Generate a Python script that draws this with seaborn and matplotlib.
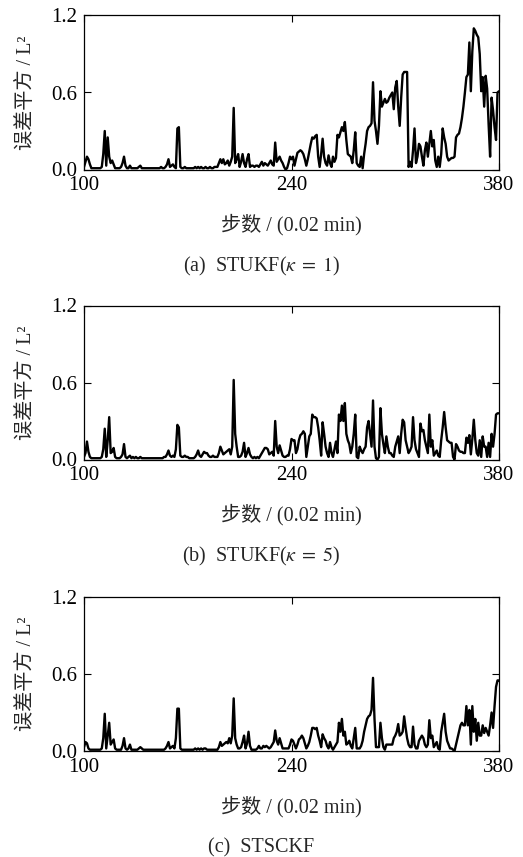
import numpy as np
import pandas as pd
import matplotlib
matplotlib.use("Agg")
import matplotlib.pyplot as plt
import seaborn as sns

# time steps (unit: 0.02 min)
steps = np.arange(100, 381)

# squared estimation error, STUKF with kappa = 1
err_stukf_k1 = [
    0.02, 0.06, 0.10, 0.08, 0.04, 0.01, 0.01, 0.01, 0.01, 0.01,
    0.01, 0.01, 0.02, 0.12, 0.30, 0.03, 0.25, 0.10, 0.05, 0.07,
    0.04, 0.01, 0.01, 0.01, 0.01, 0.02, 0.05, 0.10, 0.03, 0.01,
    0.01, 0.03, 0.01, 0.01, 0.01, 0.01, 0.01, 0.02, 0.03, 0.01,
    0.01, 0.01, 0.01, 0.01, 0.01, 0.01, 0.01, 0.01, 0.01, 0.01,
    0.01, 0.01, 0.02, 0.01, 0.01, 0.02, 0.04, 0.08, 0.02, 0.03,
    0.04, 0.02, 0.01, 0.32, 0.33, 0.02, 0.01, 0.01, 0.02, 0.01,
    0.01, 0.01, 0.01, 0.01, 0.01, 0.02, 0.01, 0.02, 0.01, 0.02,
    0.01, 0.01, 0.02, 0.01, 0.01, 0.02, 0.01, 0.01, 0.02, 0.02,
    0.02, 0.05, 0.08, 0.05, 0.08, 0.04, 0.05, 0.07, 0.03, 0.06,
    0.10, 0.48, 0.05, 0.08, 0.12, 0.02, 0.06, 0.12, 0.05, 0.02,
    0.08, 0.12, 0.02, 0.03, 0.03, 0.02, 0.03, 0.03, 0.02, 0.04,
    0.06, 0.03, 0.05, 0.04, 0.03, 0.05, 0.07, 0.04, 0.03, 0.21,
    0.06, 0.08, 0.10, 0.07, 0.05, 0.02, 0.00, 0.01, 0.05, 0.10,
    0.08, 0.10, 0.03, 0.08, 0.13, 0.14, 0.15, 0.14, 0.12, 0.08,
    0.03, 0.08, 0.14, 0.20, 0.25, 0.24, 0.26, 0.27, 0.10, 0.02,
    0.12, 0.24, 0.10, 0.05, 0.03, 0.11, 0.05, 0.02, 0.10, 0.06,
    0.09, 0.27, 0.25, 0.29, 0.33, 0.30, 0.37, 0.23, 0.12, 0.11,
    0.10, 0.05, 0.15, 0.29, 0.05, 0.03, 0.02, 0.10, 0.01, 0.12,
    0.20, 0.30, 0.33, 0.34, 0.36, 0.68, 0.38, 0.30, 0.20, 0.34,
    0.61, 0.49, 0.52, 0.55, 0.52, 0.53, 0.56, 0.58, 0.60, 0.47,
    0.64, 0.69, 0.49, 0.34, 0.56, 0.74, 0.76, 0.76, 0.76, 0.02,
    0.06, 0.02, 0.15, 0.32, 0.05, 0.10, 0.20, 0.18, 0.10, 0.03,
    0.15, 0.21, 0.10, 0.20, 0.30, 0.18, 0.23, 0.07, 0.02, 0.10,
    0.02, 0.12, 0.32, 0.25, 0.20, 0.10, 0.07, 0.08, 0.09, 0.09,
    0.10, 0.25, 0.27, 0.28, 0.33, 0.40, 0.49, 0.60, 0.72, 0.74,
    0.99, 0.61, 0.92, 1.10, 1.08, 1.05, 1.03, 0.90, 0.61, 0.72,
    0.49, 0.73, 0.63, 0.35, 0.10, 0.56, 0.46, 0.33, 0.23, 0.60,
    0.61,
]

# squared estimation error, STUKF with kappa = 5
err_stukf_k5 = [
    0.02, 0.05, 0.14, 0.06, 0.02, 0.01, 0.01, 0.01, 0.01, 0.01,
    0.01, 0.01, 0.02, 0.08, 0.24, 0.02, 0.15, 0.33, 0.05, 0.06,
    0.09, 0.02, 0.01, 0.01, 0.01, 0.02, 0.04, 0.12, 0.02, 0.01,
    0.02, 0.03, 0.01, 0.02, 0.01, 0.02, 0.01, 0.01, 0.02, 0.01,
    0.01, 0.01, 0.01, 0.01, 0.01, 0.01, 0.01, 0.01, 0.01, 0.01,
    0.01, 0.01, 0.01, 0.01, 0.02, 0.02, 0.04, 0.07, 0.03, 0.02,
    0.03, 0.02, 0.08, 0.27, 0.25, 0.03, 0.02, 0.02, 0.03, 0.02,
    0.02, 0.01, 0.01, 0.01, 0.01, 0.02, 0.04, 0.07, 0.03, 0.02,
    0.04, 0.06, 0.05, 0.05, 0.03, 0.02, 0.02, 0.03, 0.02, 0.02,
    0.02, 0.05, 0.10, 0.07, 0.04, 0.05, 0.06, 0.07, 0.08, 0.04,
    0.10, 0.62, 0.20, 0.10, 0.02, 0.02, 0.03, 0.06, 0.13, 0.02,
    0.05, 0.09, 0.04, 0.02, 0.01, 0.02, 0.01, 0.02, 0.01, 0.03,
    0.05, 0.07, 0.09, 0.09, 0.08, 0.04, 0.05, 0.06, 0.03, 0.30,
    0.10, 0.05, 0.11, 0.07, 0.03, 0.02, 0.02, 0.03, 0.03, 0.08,
    0.16, 0.15, 0.15, 0.05, 0.08, 0.15, 0.19, 0.20, 0.22, 0.20,
    0.02, 0.10, 0.18, 0.20, 0.35, 0.33, 0.33, 0.32, 0.25, 0.15,
    0.03, 0.29, 0.20, 0.10, 0.05, 0.02, 0.13, 0.05, 0.02, 0.08,
    0.14, 0.05, 0.35, 0.30, 0.42, 0.30, 0.44, 0.20, 0.15, 0.12,
    0.05, 0.10, 0.20, 0.35, 0.02, 0.01, 0.10, 0.07, 0.05, 0.08,
    0.10, 0.25, 0.30, 0.20, 0.10, 0.46, 0.10, 0.01, 0.00, 0.02,
    0.40, 0.20, 0.12, 0.05, 0.18, 0.10, 0.05, 0.05, 0.03, 0.02,
    0.10, 0.14, 0.18, 0.05, 0.20, 0.31, 0.29, 0.15, 0.10, 0.05,
    0.07, 0.10, 0.33, 0.15, 0.08, 0.05, 0.02, 0.28, 0.22, 0.23,
    0.15, 0.10, 0.05, 0.35, 0.10, 0.15, 0.03, 0.05, 0.07, 0.03,
    0.02, 0.15, 0.25, 0.37, 0.25, 0.15, 0.14, 0.13, 0.13, 0.02,
    0.00, 0.12, 0.10, 0.07, 0.06, 0.06, 0.05, 0.05, 0.17, 0.13,
    0.19, 0.04, 0.16, 0.31, 0.15, 0.05, 0.03, 0.15, 0.02, 0.18,
    0.10, 0.10, 0.02, 0.13, 0.02, 0.20, 0.10, 0.20, 0.35, 0.36,
    0.36,
]

# squared estimation error, STSCKF
err_stsckf = [
    0.03, 0.07, 0.06, 0.02, 0.01, 0.01, 0.01, 0.01, 0.01, 0.01,
    0.01, 0.01, 0.02, 0.10, 0.29, 0.02, 0.12, 0.22, 0.05, 0.07,
    0.09, 0.02, 0.01, 0.01, 0.01, 0.01, 0.04, 0.10, 0.02, 0.01,
    0.02, 0.05, 0.01, 0.01, 0.01, 0.01, 0.01, 0.02, 0.03, 0.02,
    0.01, 0.01, 0.01, 0.01, 0.01, 0.01, 0.01, 0.01, 0.01, 0.01,
    0.01, 0.01, 0.01, 0.01, 0.01, 0.02, 0.04, 0.07, 0.02, 0.03,
    0.04, 0.02, 0.10, 0.33, 0.33, 0.02, 0.01, 0.01, 0.01, 0.01,
    0.01, 0.01, 0.01, 0.01, 0.01, 0.02, 0.01, 0.02, 0.01, 0.02,
    0.01, 0.02, 0.02, 0.01, 0.01, 0.01, 0.01, 0.01, 0.01, 0.01,
    0.01, 0.03, 0.07, 0.04, 0.05, 0.06, 0.07, 0.06, 0.10, 0.06,
    0.12, 0.41, 0.10, 0.05, 0.02, 0.02, 0.03, 0.07, 0.12, 0.02,
    0.06, 0.15, 0.04, 0.01, 0.01, 0.01, 0.01, 0.02, 0.04, 0.02,
    0.02, 0.04, 0.03, 0.04, 0.03, 0.02, 0.03, 0.05, 0.07, 0.16,
    0.08, 0.05, 0.10, 0.06, 0.02, 0.02, 0.02, 0.02, 0.02, 0.05,
    0.09, 0.08, 0.05, 0.02, 0.05, 0.09, 0.10, 0.12, 0.10, 0.06,
    0.02, 0.04, 0.07, 0.12, 0.18, 0.18, 0.17, 0.18, 0.12, 0.08,
    0.03, 0.13, 0.10, 0.08, 0.04, 0.02, 0.07, 0.03, 0.01, 0.03,
    0.05, 0.07, 0.22, 0.15, 0.25, 0.12, 0.15, 0.05, 0.06, 0.08,
    0.04, 0.02, 0.10, 0.18, 0.02, 0.02, 0.02, 0.04, 0.08, 0.15,
    0.20, 0.25, 0.27, 0.28, 0.32, 0.57, 0.25, 0.03, 0.03, 0.03,
    0.22, 0.10, 0.03, 0.01, 0.05, 0.05, 0.05, 0.05, 0.05, 0.10,
    0.12, 0.15, 0.21, 0.12, 0.13, 0.15, 0.27, 0.18, 0.10, 0.05,
    0.03, 0.03, 0.19, 0.05, 0.02, 0.02, 0.08, 0.10, 0.12, 0.10,
    0.05, 0.03, 0.05, 0.24, 0.10, 0.12, 0.03, 0.05, 0.07, 0.02,
    0.01, 0.15, 0.22, 0.29, 0.15, 0.08, 0.05, 0.02, 0.02, 0.01,
    0.00, 0.05, 0.10, 0.15, 0.20, 0.22, 0.20, 0.20, 0.35, 0.20,
    0.32, 0.05, 0.35, 0.15, 0.25, 0.08, 0.22, 0.12, 0.12, 0.20,
    0.14, 0.18, 0.15, 0.12, 0.20, 0.30, 0.18, 0.35, 0.50, 0.55,
    0.55,
]

captions = [r"(a)  STUKF($\kappa\;=\;1$)", r"(b)  STUKF($\kappa\;=\;5$)", "(c)  STSCKF"]
x_ticks = [100, 240, 380]
y_ticks = [0.0, 0.6, 1.2]
y_tick_labels = ["0.0", "0.6", "1.2"]
x_label = "步数 / (0.02 min)"
y_label = "误差平方 / L²"

sns.set_style("ticks")
plt.rcParams["font.family"] = ["Liberation Serif", "Noto Sans CJK SC"]
plt.rcParams["mathtext.fontset"] = "stix"

W, H = 523, 857
fig = plt.figure(figsize=(W / 100, H / 100), dpi=100)

# axes boxes in pixels: (top, bottom)
left_px, right_px = 84, 499
boxes = [(15.5, 169.5), (305.5, 459.5), (597.0, 751.0)]
caption_y = [266, 556, 848]

series = [err_stukf_k1, err_stukf_k5, err_stsckf]

for vals, (top, bot), cap, cy in zip(series, boxes, captions, caption_y):
    ax = fig.add_axes([left_px / W, 1 - bot / H,
                       (right_px - left_px) / W, (bot - top) / H])
    df = pd.DataFrame({"step": steps, "err": vals})
    sns.lineplot(data=df, x="step", y="err", ax=ax, color="black",
                 linewidth=1.7, estimator=None)
    ax.set_xlim(100, 380)
    ax.set_ylim(0, 1.2)
    ax.set_xticks(x_ticks)
    ax.set_yticks(y_ticks)
    ax.set_yticklabels(y_tick_labels)
    ax.tick_params(direction="in", top=True, right=True, length=5,
                   width=0.8, labelsize=15, pad=5, colors="black")
    for sp in ax.spines.values():
        sp.set_linewidth(0.9)
        sp.set_color("black")
    ax.set_xlabel(x_label, fontsize=14.5)
    ax.xaxis.set_label_coords(0.5, -0.29)
    ax.set_ylabel(y_label, fontsize=14.5)
    ax.yaxis.set_label_coords(-0.115, 0.5)
    fig.text(0.5, 1 - cy / H, cap, ha="center", va="center", fontsize=14.5)

fig.savefig("out.png", dpi=100, facecolor="white")
